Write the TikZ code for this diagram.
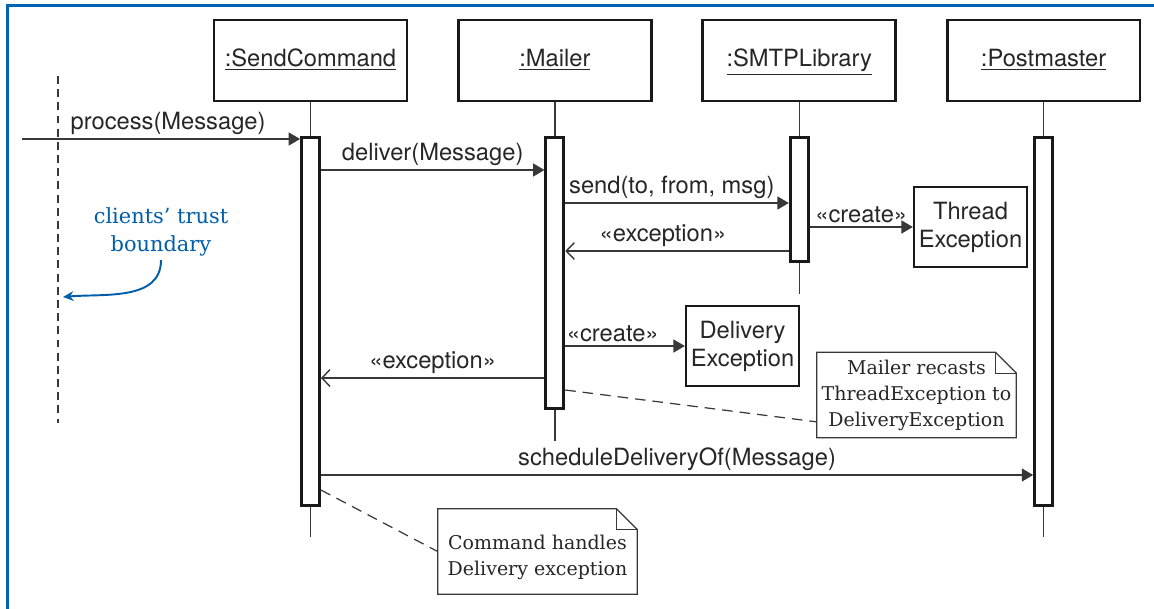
\documentclass[tikz,border=0pt]{standalone}
\usepackage{fontspec}
\setsansfont{TeX Gyre Heros}
\newfontfamily\notefont{DejaVu Serif}
\usetikzlibrary{arrows.meta,positioning}

\definecolor{frameblue}{RGB}{0,100,176}
\definecolor{trustblue}{RGB}{0,94,168}
\definecolor{inkgray}{gray}{0.22}

% outline of a UML note with a dog-eared corner
\newcommand{\foldnote}[1]{%
  \draw[notebox] (#1.north west) -- ([xshift=-0.42cm]#1.north east)
    -- ([yshift=-0.42cm]#1.north east) -- (#1.south east)
    -- (#1.south west) -- cycle;
  \draw[notebox] ([xshift=-0.42cm]#1.north east) |- ([yshift=-0.42cm]#1.north east);
}

\begin{document}
\begin{tikzpicture}[
  x=0.02cm, y=-0.02cm,
  node distance=0.972cm,
  head/.style={rectangle, draw=black!90, line width=1.6pt,
               minimum width=3.86cm, minimum height=1.62cm,
               text height=9.8pt, text depth=2.8pt,
               font=\sffamily\fontsize{13.5}{16}\selectfont, text=black!85},
  bar/.style={rectangle, draw=black!90, fill=white, line width=1.6pt,
              minimum width=0.36cm, inner sep=0pt},
  objbox/.style={rectangle, draw=black!90, line width=1.3pt, align=center,
                 minimum width=2.26cm, minimum height=1.6cm, inner sep=1pt,
                 font=\sffamily\fontsize{13.5}{16}\selectfont, text=black!85},
  life/.style={draw=inkgray, line width=0.8pt},
  msg/.style={draw=inkgray, line width=0.8pt, -{Triangle[length=6.5pt,width=7.4pt]}},
  ret/.style={draw=inkgray, line width=0.8pt, -{Straight Barb[length=4.6pt,width=9.5pt]}},
  lbl/.style={font=\sffamily\fontsize{13.5}{16}\selectfont, text=black!85, inner sep=2pt},
  notebox/.style={draw=inkgray, line width=0.7pt},
  notetext/.style={align=center, minimum width=3.98cm, minimum height=1.7cm,
                   inner sep=0pt, font=\notefont\fontsize{10.8}{14.8}\selectfont, text=black!85},
  tie/.style={draw=inkgray, line width=0.7pt, dash pattern=on 6pt off 4pt},
  bluearr/.style={draw=trustblue, line width=1.1pt, -{Stealth[length=6pt,width=5.5pt]}}
]
\useasboundingbox (0,0) rectangle (1154,609);

% frame
\draw[frameblue, line width=1.8pt] (1154,5.5) -- (7.5,5.5) -- (7.5,609);

% lifeline heads
\node[head] (send) at (310.5,60.5) {\underline{:SendCommand}};
\node[head, right=of send] (mailer) {\underline{:Mailer}};
\node[head, right=of mailer] (smtp) {\underline{:SMTPLibrary}};
\node[head, right=of smtp] (post) {\underline{:Postmaster}};

% activations
\node[bar, minimum height=7.36cm, below=0.68cm of send] (sendbar) {};
\node[bar, minimum height=5.42cm, below=0.68cm of mailer] (mailbar) {};
\node[bar, minimum height=2.48cm, below=0.68cm of smtp] (smtpbar) {};
\node[bar, minimum height=7.36cm, below=0.68cm of post] (postbar) {};

\draw[life] (send) -- (sendbar);
\draw[life] (mailer) -- (mailbar);
\draw[life] (smtp) -- (smtpbar);
\draw[life] (post) -- (postbar);
\draw[life] (sendbar.south) -- ++(0,30);
\draw[life] (mailbar.south) -- ++(0,31);
\draw[life] (smtpbar.south) -- ++(0,31);
\draw[life] (postbar.south) -- ++(0,30);

% created objects
\node[objbox] (thread) at (970.5,227) {Thread\\Exception};
\node[objbox] (delivery) at (742.5,346) {Delivery\\Exception};

% trust boundary
\draw[inkgray, line width=0.8pt, dash pattern=on 4.5pt off 3pt] (58,76) -- (58,423);
\node[align=center, text=trustblue, font=\notefont\fontsize{11.9}{16}\selectfont, inner sep=2pt]
  (trust) at (161,232) {clients’ trust\\boundary};
\coordinate (edge) at (63,297);
\draw[bluearr] (trust.south) to[out=-90, in=5] (edge);

% messages
\coordinate (caller) at (22,139);
\draw[msg] (caller) -- (caller -| sendbar.west)
  node[lbl, midway, above, xshift=4pt] {process(Message)};
\draw[msg] (sendbar.east |- 0,170) -- (mailbar.west |- 0,170)
  node[lbl, midway, above] {deliver(Message)};
\draw[msg] (mailbar.east |- 0,203) -- (smtpbar.west |- 0,203)
  node[lbl, midway, above, xshift=-3pt] {send(to, from, msg)};
\draw[ret] (smtpbar.west |- 0,251) -- (mailbar.east |- 0,251)
  node[lbl, midway, above, xshift=-8pt] {«exception»};
\draw[msg] (smtpbar.east |- thread.west) -- (thread.west)
  node[lbl, midway, above] {«create»};
\draw[msg] (mailbar.east |- delivery.west) -- (delivery.west)
  node[lbl, midway, above, xshift=-7pt] {«create»};
\draw[ret] (mailbar.west |- 0,378) -- (sendbar.east |- 0,378)
  node[lbl, midway, above] {«exception»};
\draw[msg] (sendbar.east |- 0,475) -- (postbar.west |- 0,475)
  node[lbl, midway, above] {scheduleDeliveryOf(Message)};

% notes
\node[notetext] (recast) at (916.5,395) {Mailer recasts\\ThreadException to\\DeliveryException};
\foldnote{recast}
\draw[tie] (mailbar.east |- 0,390) -- ([yshift=0.32cm]recast.south west);

\node[notetext] (handles) at (537.5,551.5) {\rule{0pt}{15pt}Command handles\\Delivery exception};
\foldnote{handles}
\draw[tie] (sendbar.east |- 0,490) -- (handles.west);
\end{tikzpicture}
\end{document}
